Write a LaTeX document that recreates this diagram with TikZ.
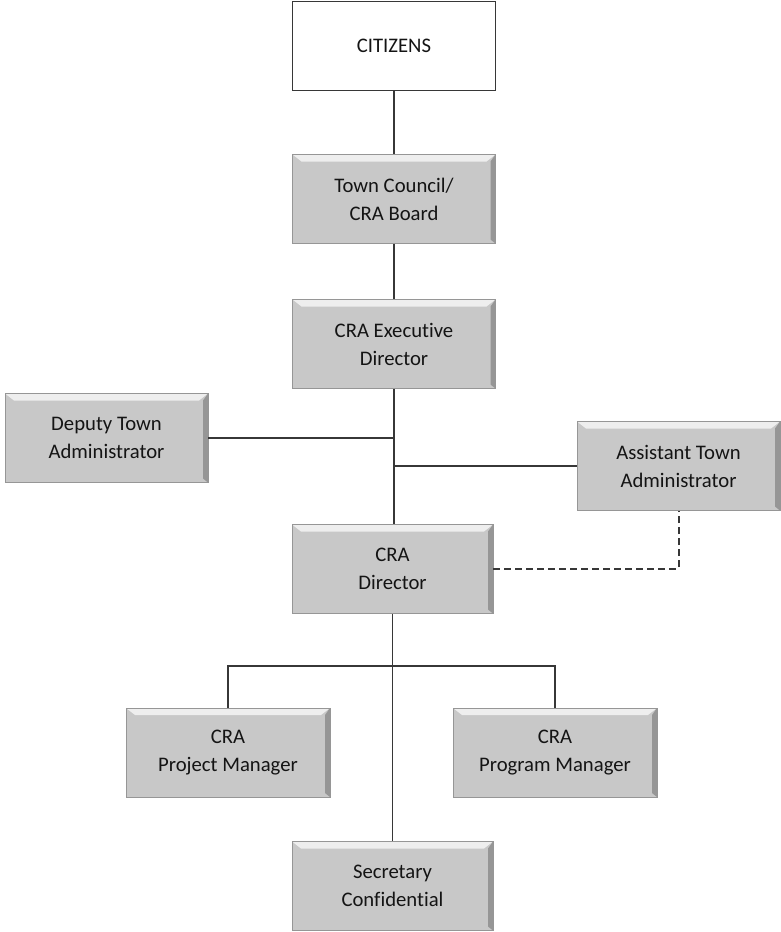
\documentclass[tikz,border=0pt]{standalone}
\usepackage{fontspec}
\setmainfont{Carlito}[Ligatures={NoCommon}]
\usetikzlibrary{calc}

\definecolor{boxgray}{RGB}{200,200,200}
\definecolor{boxline}{RGB}{150,150,150}
\definecolor{linkgray}{RGB}{55,55,55}
\definecolor{txtdark}{RGB}{20,20,20}

\tikzset{
  post/.style={rectangle, fill=boxgray, draw=boxline, line width=0.6,
    minimum width=203, minimum height=89, inner sep=0, align=center,
    text=txtdark, font=\fontsize{20.7}{28}\selectfont,
    path picture={
      \fill[white!70!boxgray] (path picture bounding box.north west)
        -- (path picture bounding box.north east)
        -- ([shift={(-9,-7)}]path picture bounding box.north east)
        -- ([shift={(9,-7)}]path picture bounding box.north west) -- cycle;
      \fill[black!25!boxgray] (path picture bounding box.north east)
        -- (path picture bounding box.south east)
        -- ([shift={(-5,4)}]path picture bounding box.south east)
        -- ([shift={(-5,-7)}]path picture bounding box.north east) -- cycle;
    }},
  topbox/.style={post, fill=white, draw=linkgray, line width=1.2, path picture={}},
  link/.style={draw=linkgray, line width=1.4},
  dotlink/.style={link, line width=2, dash pattern=on 7pt off 4pt}
}

\begin{document}
\begin{tikzpicture}[x=1pt, y=1pt]
\useasboundingbox (0,0) rectangle (781,-932);

% Boxes
\node[topbox] (citizens) at (394,-46) {CITIZENS};
\node[post] (council) at (394,-199) {Town Council/\\CRA Board};
\node[post] (exec) at (394,-344) {CRA Executive\\Director};
\node[post] (deputy) at (106.5,-438) {Deputy Town\\Administrator};
\node[post] (assist) at (678.5,-466) {Assistant Town\\Administrator};
\node[post, minimum width=201] (director) at (392.5,-569) {CRA\\Director};
\node[post, minimum width=204] (project) at (228,-752.5) {CRA\\Project Manager};
\node[post, minimum width=204] (program) at (555,-752.5) {CRA\\Program Manager};
\node[post, minimum width=201] (secretary) at (392.5,-886) {Secretary\\Confidential};

% Split point
\coordinate (split) at (392.5,-666);

% Links
\draw[link] (citizens) -- (council);
\draw[link] (council) -- (exec);
\draw[link] (exec.south) -- (exec.south |- director.north);
\draw[link] (deputy.east) -- (deputy.east -| exec.south);
\draw[link] (assist.west) -- (assist.west -| exec.south);
\draw[dotlink] (director.east) -| (assist.south);
\draw[link] (director.south) -- (secretary.north);
\draw[link] (project.north) |- (split) -| (program.north);

\end{tikzpicture}
\end{document}
